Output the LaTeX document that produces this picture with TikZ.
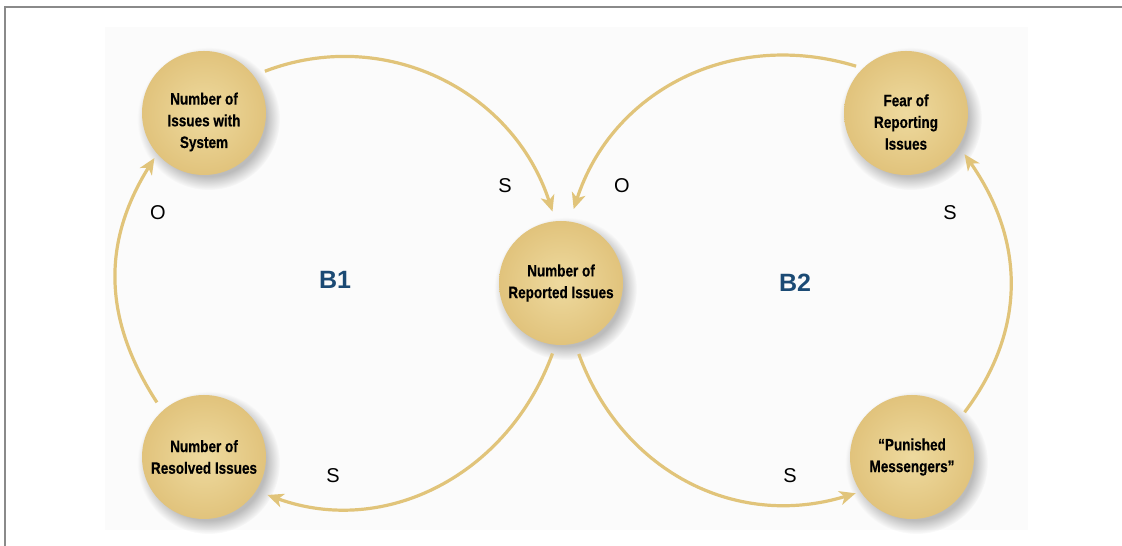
\documentclass[tikz,border=0pt]{standalone}
\usepackage{fontspec}
\setmainfont{Liberation Sans}
\newfontfamily\nodefont[FakeStretch=0.82,FakeBold=0.4]{Liberation Sans}
\usetikzlibrary{arrows.meta,shadows,fadings}
\definecolor{bgcol}{HTML}{FBFBFB}
\definecolor{arrowcol}{HTML}{E1C47A}
\definecolor{ballin}{HTML}{EEDA9F}
\definecolor{ballout}{HTML}{E1C37C}
\definecolor{loopblue}{HTML}{1B4A74}
\definecolor{framegray}{HTML}{8A8A8A}
\tikzset{
  var/.style={circle, minimum size=124pt, inner sep=0pt,
    inner color=ballin, outer color=ballout,
    circular drop shadow={shadow xshift=4pt, shadow yshift=-5pt, shadow scale=1.15,
      fill=black, opacity=0.25, path fading={circle with fuzzy edge 20 percent}},
    font=\nodefont\bfseries\fontsize{16.5}{21.7}\selectfont, align=center, text=black},
  link/.style={draw=arrowcol, line width=3.2pt, -{Stealth[length=16pt,width=14pt,inset=4.5pt]}},
  pol/.style={font=\fontsize{20}{24}\selectfont, text=black},
  loopname/.style={font=\bfseries\fontsize{25}{30}\selectfont, text=loopblue}
}
\begin{document}
\begin{tikzpicture}[x=1pt,y=1pt]
\useasboundingbox (0,0) rectangle (1122,546);
\fill[bgcol] (105,16) rectangle (1028,519);
\draw[framegray, line width=1.5pt] (5,-2) -- (5,539) -- (1124,539);

\node[var] (n1) at (204,433) {\rule{0pt}{30pt}Number of\\Issues with\\System};
\node[var] (c) at (561,263) {Number of\\Reported Issues};
\node[var] (fear) at (906,433) {\rule{0pt}{30pt}Fear of\\Reporting\\Issues};
\node[var] (res) at (204,89) {Number of\\Resolved Issues};
\node[var] (pun) at (912,89) {“Punished\\Messengers”};

\draw[link, shorten <=12pt, shorten >=10pt] (n1.37) to[out=21,in=108,looseness=1.06] (c.95);
\draw[link, shorten <=7pt, shorten >=13pt] (fear.134) to[out=163,in=72,looseness=1.06] (c.82);
\draw[link, shorten <=9pt, shorten >=12pt] (c.265) to[out=250,in=340,looseness=1.06] (res.-33);
\draw[link, shorten <=11pt, shorten >=5pt] (c.283) to[out=290,in=197,looseness=1.06] (pun.214);
\draw[link, shorten <=10pt, shorten >=5pt] (res.132) to[out=123,in=238,looseness=1.06] (n1.221);
\draw[link, shorten <=7pt, shorten >=10pt] (pun.39) to[out=53,in=305,looseness=1.06] (fear.-32);

\node[pol] (s1) at (505,360) {S};
\node[pol] (o1) at (622,360) {O};
\node[pol] (o2) at (158,333) {O};
\node[pol] (s2) at (950,333) {S};
\node[pol] (s3) at (333,70) {S};
\node[pol] (s4) at (790,70) {S};
\node[loopname] (b1) at (335,266) {B1};
\node[loopname] (b2) at (795,263) {B2};
\end{tikzpicture}
\end{document}
